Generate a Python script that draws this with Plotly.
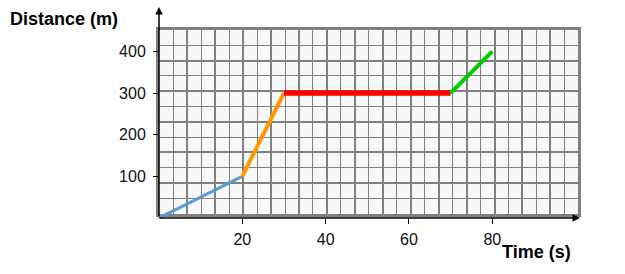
import plotly.graph_objects as go

# Data
seg_names = ["A", "B", "C", "D"]
seg_x = [[0, 20], [20, 30], [30, 70], [70, 80]]
seg_y = [[0, 100], [100, 300], [300, 300], [300, 400]]
seg_colors = ["#5b9bd5", "#ff9900", "#ff0000", "#00cc00"]
seg_widths = [3, 4, 5.5, 4]

x_ticks = [20, 40, 60, 80]
y_ticks = [100, 200, 300, 400]
x_title = "Time (s)"
y_title = "Distance (m)"

W, H = 625, 274
L, R, T, B = 159, 45, 7, 56
plot_w = W - L - R
plot_h = H - T - B
X_MAX = 101.05
Y_MAX = 506.4

# grid paper (cells)
grid_cols, grid_rows = 30, 12
gx0, gx1 = 159.3, 578.3
gy0, gy1 = 30.0, 213.6


def px_to_paper(px, py):
    return (px - L) / plot_w, (T + plot_h - py) / plot_h


fig = go.Figure()

# invisible trace to create the grid subplot
fig.add_trace(go.Scatter(x=[None], y=[None], xaxis="x", yaxis="y",
                         showlegend=False, hoverinfo="skip"))

for name, xs, ys, c, w in zip(seg_names, seg_x, seg_y, seg_colors, seg_widths):
    fig.add_trace(go.Scatter(x=xs, y=ys, mode="lines", name=name,
                             line=dict(color=c, width=w),
                             xaxis="x2", yaxis="y2", showlegend=False,
                             hoverinfo="skip"))

grid_color = "#808080"
ytx, yty = px_to_paper(8, 19)
xtx, xty = px_to_paper(500, 252)

fig.update_layout(
    width=W, height=H,
    margin=dict(l=L, r=R, t=T, b=B, pad=0),
    paper_bgcolor="white",
    plot_bgcolor="rgba(0,0,0,0)",
    font=dict(family="Liberation Sans, Arial, sans-serif", size=16, color="#111"),
    xaxis=dict(
        domain=[(gx0 - L) / plot_w, (gx1 - L) / plot_w],
        range=[0, grid_cols], anchor="y",
        showticklabels=False, ticks="",
        showgrid=True, dtick=2, tick0=0, gridcolor=grid_color, gridwidth=2,
        minor=dict(dtick=1, tick0=0, showgrid=True, gridcolor=grid_color, gridwidth=1),
        showline=True, mirror=True, linecolor=grid_color, linewidth=2.5,
        zeroline=False, fixedrange=True,
    ),
    yaxis=dict(
        domain=[(T + plot_h - gy1) / plot_h, (T + plot_h - gy0) / plot_h],
        range=[0, grid_rows], anchor="x",
        showticklabels=False, ticks="",
        showgrid=True, dtick=2, tick0=0, gridcolor=grid_color, gridwidth=2,
        minor=dict(dtick=1, tick0=0, showgrid=True, gridcolor=grid_color, gridwidth=1),
        showline=True, mirror=True, linecolor=grid_color, linewidth=2.5,
        zeroline=False, fixedrange=True,
    ),
    xaxis2=dict(
        domain=[0, 1], range=[0, X_MAX], anchor="y2",
        tickvals=x_ticks, ticktext=[str(v) for v in x_ticks],
        ticks="outside", ticklen=5, tickcolor="black", tickwidth=1,
        showgrid=False, zeroline=False, showline=False,
        tickfont=dict(size=16, color="#111"), ticklabelstandoff=2,
    ),
    yaxis2=dict(
        domain=[0, 1], range=[0, Y_MAX], anchor="x2",
        tickvals=y_ticks, ticktext=[str(v) for v in y_ticks],
        ticks="outside", ticklen=5, tickcolor="black", tickwidth=1,
        showgrid=False, zeroline=False, showline=False,
        tickfont=dict(size=16, color="#111"), ticklabelstandoff=4,
    ),
    shapes=[dict(type="rect", xref="x domain", yref="y domain",
                 x0=0, x1=1, y0=0, y1=1, fillcolor="#f8f8f8",
                 line=dict(width=0), layer="below")],
    annotations=[
        # x axis with arrow
        dict(x=X_MAX, y=0, ax=-0.3, ay=0, xref="x2", yref="y2",
             axref="x2", ayref="y2", text="", showarrow=True,
             arrowhead=2, arrowsize=1, arrowwidth=1.5, arrowcolor="black",
             standoff=0, startstandoff=0),
        # y axis with arrow
        dict(x=0, y=Y_MAX, ax=0, ay=0, xref="x2", yref="y2",
             axref="x2", ayref="y2", text="", showarrow=True,
             arrowhead=2, arrowsize=1, arrowwidth=1.5, arrowcolor="black",
             standoff=0, startstandoff=0),
        dict(x=ytx, y=yty, xref="paper", yref="paper",
             xanchor="left", yanchor="middle", text="<b>" + y_title + "</b>",
             showarrow=False, font=dict(size=18, color="black")),
        dict(x=xtx, y=xty, xref="paper", yref="paper",
             xanchor="left", yanchor="middle", text="<b>" + x_title + "</b>",
             showarrow=False, font=dict(size=18, color="black")),
    ],
)

fig.write_html("out.html")
